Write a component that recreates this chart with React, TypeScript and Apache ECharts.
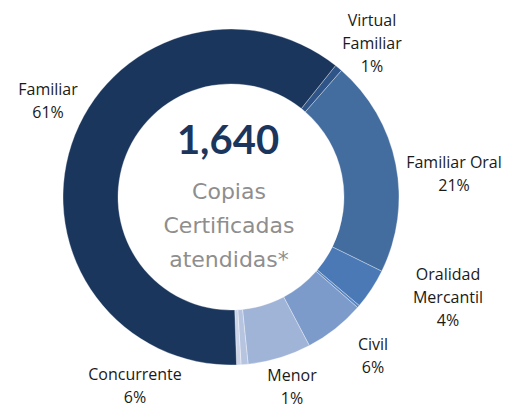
import React, { useEffect, useRef } from "react";
import * as echarts from "echarts";

// Slices in clockwise order, starting at the Familiar / Virtual Familiar boundary
const categories = [
  "Virtual Familiar",
  "Familiar Oral",
  "Oralidad Mercantil",
  "Otros (a)",
  "Civil",
  "Concurrente",
  "Menor",
  "Otros (b)",
  "Familiar",
];
const values = [12, 342, 64, 4, 96, 100, 11, 7, 1004];
const labelTexts = [
  "Virtual\nFamiliar",
  "Familiar Oral",
  "Oralidad\nMercantil",
  "",
  "Civil",
  "Concurrente",
  "Menor",
  "",
  "Familiar",
];
const shownLabels = [true, true, true, false, true, true, true, false, true];
const totalLabel = "1,640";
const centerLines = ["Copias", "Certificadas", "atendidas*"];

// styles / positions (kept apart from the data)
const colors = [
  "#2f5588",
  "#436c9f",
  "#4a79b6",
  "#5a86c2",
  "#7c9bcb",
  "#a0b4d7",
  "#b6c4e0",
  "#cbd4e8",
  "#1b365d",
];
const labelAnchors: [number, number][] = [
  [372, 43],
  [454, 173],
  [448, 297],
  [0, 0],
  [373, 355],
  [135, 385],
  [292, 386],
  [0, 0],
  [48, 100],
];

export default function App() {
  const ref = useRef<HTMLDivElement>(null);
  useEffect(() => {
    if (!ref.current) return;
    const chart = echarts.init(ref.current, null, { renderer: "svg" });
    const data = categories.map((name, i) => ({
      name,
      value: values[i],
      itemStyle: { color: colors[i] },
      label: { show: shownLabels[i] },
    }));
    chart.setOption({
      animation: false,
      backgroundColor: "#ffffff",
      series: [
        {
          type: "pie",
          center: [231, 197],
          radius: [113, 168],
          startAngle: 51.5,
          clockwise: true,
          avoidLabelOverlap: false,
          data,
          itemStyle: {
            borderColor: "rgba(255,255,255,0.55)",
            borderWidth: 0.6,
          },
          label: {
            show: true,
            position: "outside",
            fontFamily: "'Open Sans', sans-serif",
            fontSize: 16,
            lineHeight: 23,
            color: "#1a1a1a",
            align: "center",
            formatter: (p: any) =>
              labelTexts[p.dataIndex] + "\n" + Math.round(p.percent) + "%",
          },
          labelLine: { show: false },
          labelLayout: (p: any) => {
            const a = labelAnchors[p.dataIndex];
            return {
              x: a[0],
              y: a[1],
              align: "center",
              verticalAlign: "middle",
              hideOverlap: false,
            };
          },
          emphasis: { disabled: true },
        },
      ],
      graphic: [
        {
          type: "text",
          x: 228,
          y: 139,
          style: {
            text: totalLabel,
            fontFamily: "Lato, sans-serif",
            fontWeight: "bold",
            fontSize: 40,
            fill: "#1b365d",
            textAlign: "center",
            textVerticalAlign: "middle",
          },
        },
        ...centerLines.map((t, i) => ({
          type: "text",
          x: 229,
          y: 191 + i * 34,
          style: {
            text: t,
            fontFamily: "'DejaVu Sans', sans-serif",
            fontSize: 22,
            fill: "#8e8e8e",
            textAlign: "center",
            textVerticalAlign: "middle",
          },
        })),
      ],
    });
    return () => chart.dispose();
  }, []);
  return (
    <div
      ref={ref}
      style={{ position: "absolute", left: 0, top: 0, width: 514, height: 407 }}
    />
  );
}
